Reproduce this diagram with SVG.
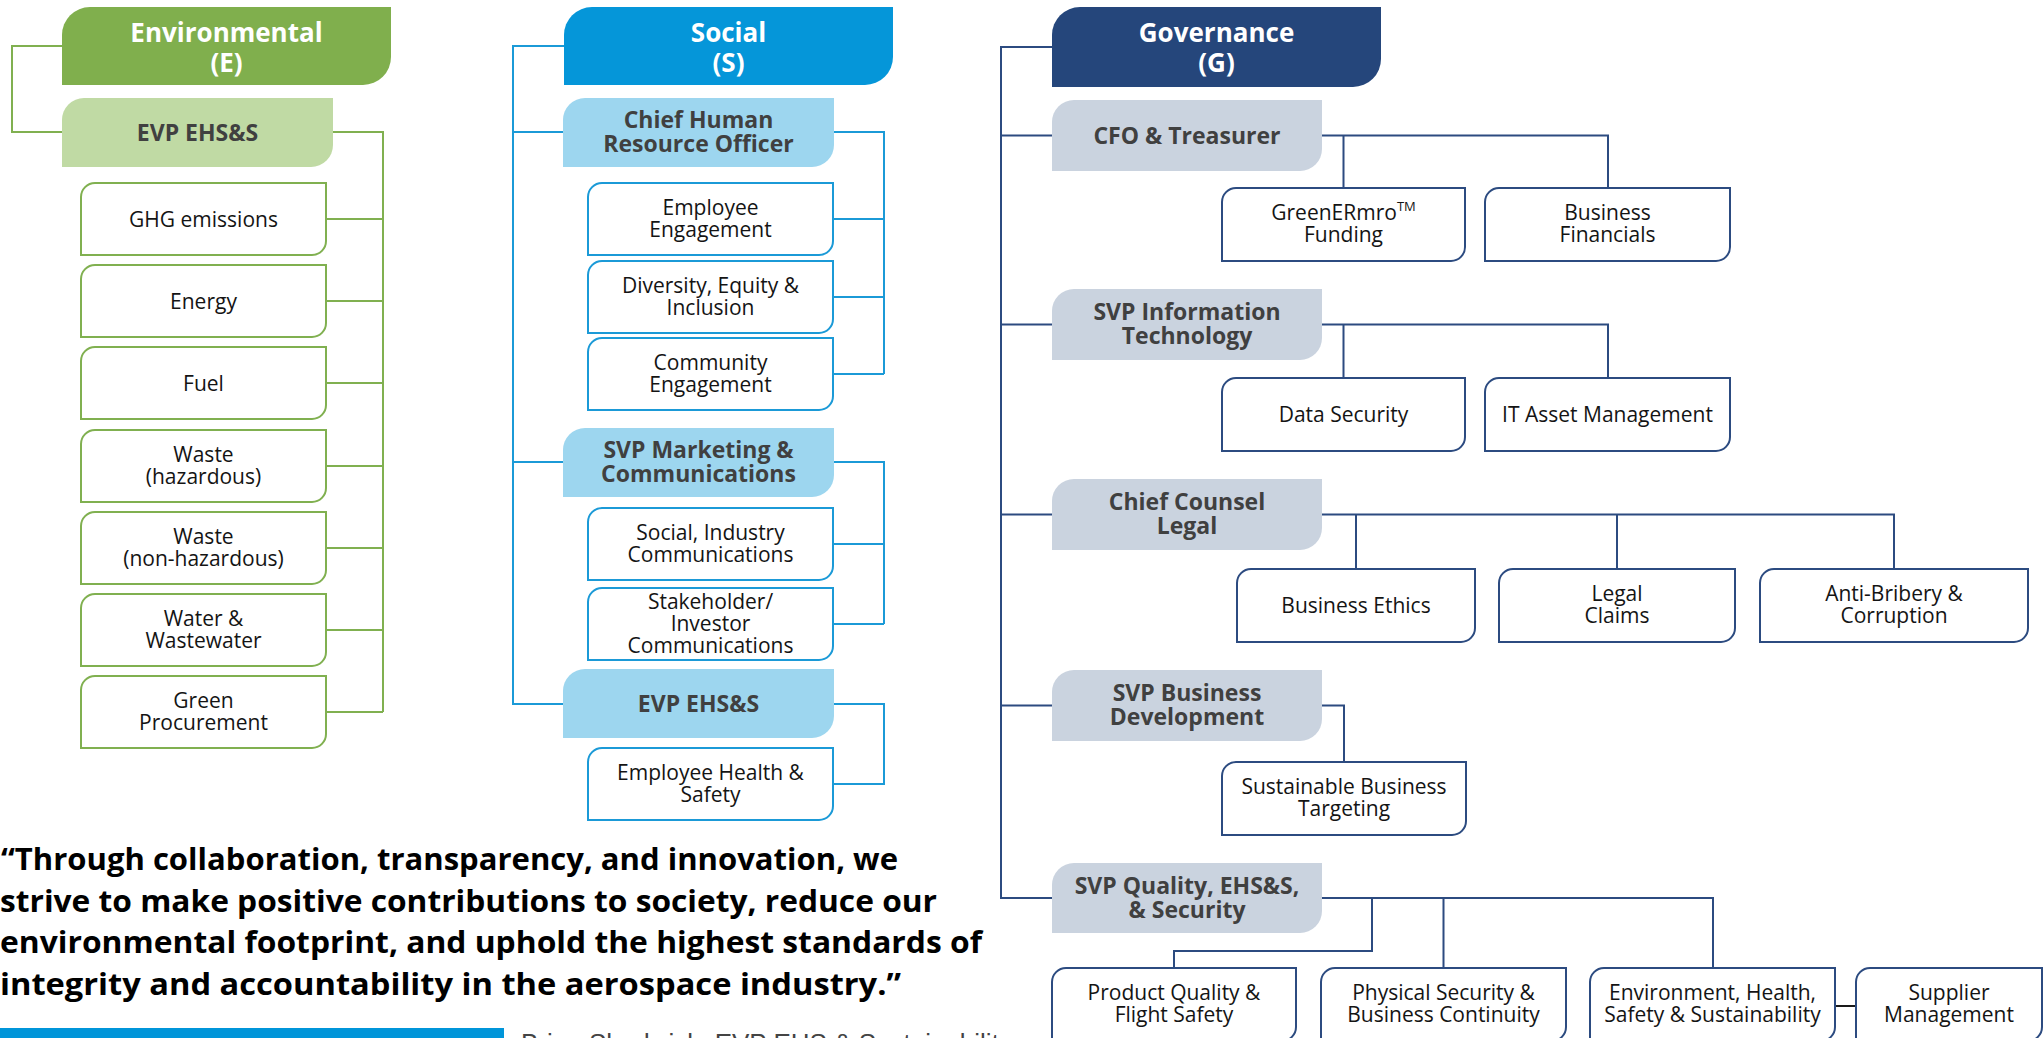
<svg xmlns="http://www.w3.org/2000/svg" width="2044" height="1038" viewBox="0 0 2044 1038">
  <style>
    .ln { fill: none; stroke-width: 2; }
    .e-ln { stroke: #80B050; }
    .s-ln { stroke: #1B9AD7; }
    .g-ln { stroke: #2C4B80; }
    .leaf { fill: #ffffff; stroke-width: 2; }
    .e-leaf { stroke: #80B050; }
    .s-leaf { stroke: #1B9AD7; }
    .g-leaf { stroke: #2C4B80; }
    .hdr-t { font-family: "Open Sans", "Noto Sans", sans-serif; font-weight: 700; font-size: 26px; fill: #ffffff; text-anchor: middle; }
    .sub-t { font-family: "Open Sans", "Noto Sans", sans-serif; font-weight: 700; font-size: 23px; fill: #404040; text-anchor: middle; }
    .leaf-t { font-family: "Open Sans", "Noto Sans", sans-serif; font-weight: 400; font-size: 21px; fill: #141414; text-anchor: middle; }
    .quote { font-family: "Open Sans", "Noto Sans", sans-serif; font-weight: 700; font-size: 30px; fill: #000000; }
    .credit { font-family: "Liberation Sans", Arial, sans-serif; font-size: 26px; fill: #444444; }
  </style>

  <rect x="0" y="0" width="2044" height="1038" fill="#ffffff"/>

  <!-- connectors -->
  <g id="connectors">
    <!-- Environmental -->
    <path class="ln e-ln" d="M62,46 H12 V132 H62"/>
    <path class="ln e-ln" d="M333,132 H383 V712"/>
    <path class="ln e-ln" d="M326,219 H383 M326,301 H383 M326,383 H383 M326,466 H383 M326,548 H383 M326,630 H383 M326,712 H383"/>
    <!-- Social -->
    <path class="ln s-ln" d="M564,46 H513 V704 H563 M513,132 H563 M513,462 H563"/>
    <path class="ln s-ln" d="M834,132 H884 V374 M833,219 H884 M833,297 H884 M833,374 H884"/>
    <path class="ln s-ln" d="M834,462 H884 V624 M833,544 H884 M833,624 H884"/>
    <path class="ln s-ln" d="M834,704 H884 V784 H833"/>
    <!-- Governance -->
    <path class="ln g-ln" d="M1052,47 H1001 V898 H1052 M1001,135.5 H1052 M1001,324.5 H1052 M1001,514.5 H1052 M1001,705.5 H1052"/>
    <path class="ln g-ln" d="M1322,135.5 H1608 V188 M1343.5,135.5 V188"/>
    <path class="ln g-ln" d="M1322,324.5 H1608 V378 M1343.5,324.5 V378"/>
    <path class="ln g-ln" d="M1322,514.5 H1894 V569 M1356,514.5 V569 M1617,514.5 V569"/>
    <path class="ln g-ln" d="M1322,705.5 H1344 V762"/>
    <path class="ln g-ln" d="M1322,898 H1713 V968 M1372,898 V951 H1174 V968 M1443.5,898 V968"/>
    <path class="ln" stroke="#1a1a1a" d="M1835,1006 H1856"/>
  </g>

  <!-- Environmental column -->
  <g id="env-header">
    <path d="M62,35 A28,28 0 0 1 90,7 H391 V57 A28,28 0 0 1 363,85 H62 Z" fill="#80AF4D"/>
    <text class="hdr-t"><tspan x="226.5" y="42">Environmental</tspan><tspan x="226.5" y="72">(E)</tspan></text>
  </g>
  <g id="env-evp">
    <path d="M62,120 A22,22 0 0 1 84,98 H333 V145 A22,22 0 0 1 311,167 H62 Z" fill="#C0DAA4"/>
    <text class="sub-t" x="197.5" y="140.5">EVP EHS&amp;S</text>
  </g>
  <g id="env-ghg">
    <path class="leaf e-leaf" d="M81,197 A14,14 0 0 1 95,183 H326 V241 A14,14 0 0 1 312,255 H81 Z"/>
    <text class="leaf-t" x="203.5" y="226.5">GHG emissions</text>
  </g>
  <g id="env-energy">
    <path class="leaf e-leaf" d="M81,279 A14,14 0 0 1 95,265 H326 V323 A14,14 0 0 1 312,337 H81 Z"/>
    <text class="leaf-t" x="203.5" y="308.5">Energy</text>
  </g>
  <g id="env-fuel">
    <path class="leaf e-leaf" d="M81,361 A14,14 0 0 1 95,347 H326 V405 A14,14 0 0 1 312,419 H81 Z"/>
    <text class="leaf-t" x="203.5" y="390.5">Fuel</text>
  </g>
  <g id="env-waste-haz">
    <path class="leaf e-leaf" d="M81,444 A14,14 0 0 1 95,430 H326 V488 A14,14 0 0 1 312,502 H81 Z"/>
    <text class="leaf-t"><tspan x="203.5" y="461.5">Waste</tspan><tspan x="203.5" y="483.5">(hazardous)</tspan></text>
  </g>
  <g id="env-waste-nonhaz">
    <path class="leaf e-leaf" d="M81,526 A14,14 0 0 1 95,512 H326 V570 A14,14 0 0 1 312,584 H81 Z"/>
    <text class="leaf-t"><tspan x="203.5" y="543.5">Waste</tspan><tspan x="203.5" y="565.5">(non-hazardous)</tspan></text>
  </g>
  <g id="env-water">
    <path class="leaf e-leaf" d="M81,608 A14,14 0 0 1 95,594 H326 V652 A14,14 0 0 1 312,666 H81 Z"/>
    <text class="leaf-t"><tspan x="203.5" y="625.5">Water &amp;</tspan><tspan x="203.5" y="647.5">Wastewater</tspan></text>
  </g>
  <g id="env-procurement">
    <path class="leaf e-leaf" d="M81,690 A14,14 0 0 1 95,676 H326 V734 A14,14 0 0 1 312,748 H81 Z"/>
    <text class="leaf-t"><tspan x="203.5" y="707.5">Green</tspan><tspan x="203.5" y="729.5">Procurement</tspan></text>
  </g>

  <!-- Social column -->
  <g id="soc-header">
    <path d="M564,35 A28,28 0 0 1 592,7 H893 V57 A28,28 0 0 1 865,85 H564 Z" fill="#0596D9"/>
    <text class="hdr-t"><tspan x="728.5" y="42">Social</tspan><tspan x="728.5" y="72">(S)</tspan></text>
  </g>
  <g id="soc-chro">
    <path d="M563,120 A22,22 0 0 1 585,98 H834 V145 A22,22 0 0 1 812,167 H563 Z" fill="#9DD6EF"/>
    <text class="sub-t"><tspan x="698.5" y="128">Chief Human</tspan><tspan x="698.5" y="152">Resource Officer</tspan></text>
  </g>
  <g id="soc-emp-eng">
    <path class="leaf s-leaf" d="M588,197 A14,14 0 0 1 602,183 H833 V241 A14,14 0 0 1 819,255 H588 Z"/>
    <text class="leaf-t"><tspan x="710.5" y="214.5">Employee</tspan><tspan x="710.5" y="236.5">Engagement</tspan></text>
  </g>
  <g id="soc-dei">
    <path class="leaf s-leaf" d="M588,275 A14,14 0 0 1 602,261 H833 V319 A14,14 0 0 1 819,333 H588 Z"/>
    <text class="leaf-t"><tspan x="710.5" y="292.5">Diversity, Equity &amp;</tspan><tspan x="710.5" y="314.5">Inclusion</tspan></text>
  </g>
  <g id="soc-community">
    <path class="leaf s-leaf" d="M588,352 A14,14 0 0 1 602,338 H833 V396 A14,14 0 0 1 819,410 H588 Z"/>
    <text class="leaf-t"><tspan x="710.5" y="369.5">Community</tspan><tspan x="710.5" y="391.5">Engagement</tspan></text>
  </g>
  <g id="soc-marketing">
    <path d="M563,450 A22,22 0 0 1 585,428 H834 V475 A22,22 0 0 1 812,497 H563 Z" fill="#9DD6EF"/>
    <text class="sub-t"><tspan x="698.5" y="458">SVP Marketing &amp;</tspan><tspan x="698.5" y="482">Communications</tspan></text>
  </g>
  <g id="soc-industry">
    <path class="leaf s-leaf" d="M588,522 A14,14 0 0 1 602,508 H833 V566 A14,14 0 0 1 819,580 H588 Z"/>
    <text class="leaf-t"><tspan x="710.5" y="539.5">Social, Industry</tspan><tspan x="710.5" y="561.5">Communications</tspan></text>
  </g>
  <g id="soc-investor">
    <path class="leaf s-leaf" d="M588,602 A14,14 0 0 1 602,588 H833 V646 A14,14 0 0 1 819,660 H588 Z"/>
    <text class="leaf-t"><tspan x="710.5" y="608.5">Stakeholder/</tspan><tspan x="710.5" y="630.5">Investor</tspan><tspan x="710.5" y="652.5">Communications</tspan></text>
  </g>
  <g id="soc-evp">
    <path d="M563,691 A22,22 0 0 1 585,669 H834 V716 A22,22 0 0 1 812,738 H563 Z" fill="#9DD6EF"/>
    <text class="sub-t" x="698.5" y="711.5">EVP EHS&amp;S</text>
  </g>
  <g id="soc-health">
    <path class="leaf s-leaf" d="M588,762 A14,14 0 0 1 602,748 H833 V806 A14,14 0 0 1 819,820 H588 Z"/>
    <text class="leaf-t"><tspan x="710.5" y="779.5">Employee Health &amp;</tspan><tspan x="710.5" y="801.5">Safety</tspan></text>
  </g>

  <!-- Governance column -->
  <g id="gov-header">
    <path d="M1052,35 A28,28 0 0 1 1080,7 H1381 V59 A28,28 0 0 1 1353,87 H1052 Z" fill="#25467B"/>
    <text class="hdr-t"><tspan x="1216.5" y="42">Governance</tspan><tspan x="1216.5" y="72">(G)</tspan></text>
  </g>
  <g id="gov-cfo">
    <path d="M1052,122 A22,22 0 0 1 1074,100 H1322 V149 A22,22 0 0 1 1300,171 H1052 Z" fill="#CAD3DF"/>
    <text class="sub-t" x="1187" y="143.5">CFO &amp; Treasurer</text>
  </g>
  <g id="gov-greenermro">
    <path class="leaf g-leaf" d="M1222,202 A14,14 0 0 1 1236,188 H1465 V247 A14,14 0 0 1 1451,261 H1222 Z"/>
    <text class="leaf-t"><tspan x="1343.5" y="220">GreenERmro<tspan font-size="13" dy="-9">TM</tspan></tspan><tspan x="1343.5" y="242">Funding</tspan></text>
  </g>
  <g id="gov-financials">
    <path class="leaf g-leaf" d="M1485,202 A14,14 0 0 1 1499,188 H1730 V247 A14,14 0 0 1 1716,261 H1485 Z"/>
    <text class="leaf-t"><tspan x="1607.5" y="220">Business</tspan><tspan x="1607.5" y="242">Financials</tspan></text>
  </g>
  <g id="gov-it">
    <path d="M1052,311 A22,22 0 0 1 1074,289 H1322 V338 A22,22 0 0 1 1300,360 H1052 Z" fill="#CAD3DF"/>
    <text class="sub-t"><tspan x="1187" y="320">SVP Information</tspan><tspan x="1187" y="344">Technology</tspan></text>
  </g>
  <g id="gov-data-security">
    <path class="leaf g-leaf" d="M1222,392 A14,14 0 0 1 1236,378 H1465 V437 A14,14 0 0 1 1451,451 H1222 Z"/>
    <text class="leaf-t" x="1343.5" y="421.5">Data Security</text>
  </g>
  <g id="gov-it-assets">
    <path class="leaf g-leaf" d="M1485,392 A14,14 0 0 1 1499,378 H1730 V437 A14,14 0 0 1 1716,451 H1485 Z"/>
    <text class="leaf-t" x="1607.5" y="421.5">IT Asset Management</text>
  </g>
  <g id="gov-legal">
    <path d="M1052,501 A22,22 0 0 1 1074,479 H1322 V528 A22,22 0 0 1 1300,550 H1052 Z" fill="#CAD3DF"/>
    <text class="sub-t"><tspan x="1187" y="510">Chief Counsel</tspan><tspan x="1187" y="534">Legal</tspan></text>
  </g>
  <g id="gov-ethics">
    <path class="leaf g-leaf" d="M1237,583 A14,14 0 0 1 1251,569 H1475 V628 A14,14 0 0 1 1461,642 H1237 Z"/>
    <text class="leaf-t" x="1356" y="612.5">Business Ethics</text>
  </g>
  <g id="gov-claims">
    <path class="leaf g-leaf" d="M1499,583 A14,14 0 0 1 1513,569 H1735 V628 A14,14 0 0 1 1721,642 H1499 Z"/>
    <text class="leaf-t"><tspan x="1617" y="601">Legal</tspan><tspan x="1617" y="623">Claims</tspan></text>
  </g>
  <g id="gov-bribery">
    <path class="leaf g-leaf" d="M1760,583 A14,14 0 0 1 1774,569 H2028 V628 A14,14 0 0 1 2014,642 H1760 Z"/>
    <text class="leaf-t"><tspan x="1894" y="601">Anti-Bribery &amp;</tspan><tspan x="1894" y="623">Corruption</tspan></text>
  </g>
  <g id="gov-bizdev">
    <path d="M1052,692 A22,22 0 0 1 1074,670 H1322 V719 A22,22 0 0 1 1300,741 H1052 Z" fill="#CAD3DF"/>
    <text class="sub-t"><tspan x="1187" y="701">SVP Business</tspan><tspan x="1187" y="725">Development</tspan></text>
  </g>
  <g id="gov-targeting">
    <path class="leaf g-leaf" d="M1222,776 A14,14 0 0 1 1236,762 H1466 V821 A14,14 0 0 1 1452,835 H1222 Z"/>
    <text class="leaf-t"><tspan x="1344" y="794">Sustainable Business</tspan><tspan x="1344" y="816">Targeting</tspan></text>
  </g>
  <g id="gov-quality">
    <path d="M1052,885 A22,22 0 0 1 1074,863 H1322 V911 A22,22 0 0 1 1300,933 H1052 Z" fill="#CAD3DF"/>
    <text class="sub-t"><tspan x="1187" y="893.5">SVP Quality, EHS&amp;S,</tspan><tspan x="1187" y="917.5">&amp; Security</tspan></text>
  </g>
  <g id="gov-flight-safety">
    <path class="leaf g-leaf" d="M1052,982 A14,14 0 0 1 1066,968 H1296 V1027 A14,14 0 0 1 1282,1041 H1052 Z"/>
    <text class="leaf-t"><tspan x="1174" y="1000">Product Quality &amp;</tspan><tspan x="1174" y="1022">Flight Safety</tspan></text>
  </g>
  <g id="gov-continuity">
    <path class="leaf g-leaf" d="M1321,982 A14,14 0 0 1 1335,968 H1566 V1027 A14,14 0 0 1 1552,1041 H1321 Z"/>
    <text class="leaf-t"><tspan x="1443.5" y="1000">Physical Security &amp;</tspan><tspan x="1443.5" y="1022">Business Continuity</tspan></text>
  </g>
  <g id="gov-ehss">
    <path class="leaf g-leaf" d="M1590,982 A14,14 0 0 1 1604,968 H1835 V1027 A14,14 0 0 1 1821,1041 H1590 Z"/>
    <text class="leaf-t"><tspan x="1712.5" y="1000">Environment, Health,</tspan><tspan x="1712.5" y="1022">Safety &amp; Sustainability</tspan></text>
  </g>
  <g id="gov-supplier">
    <path class="leaf g-leaf" d="M1856,982 A14,14 0 0 1 1870,968 H2042 V1027 A14,14 0 0 1 2028,1041 H1856 Z"/>
    <text class="leaf-t"><tspan x="1949" y="1000">Supplier</tspan><tspan x="1949" y="1022">Management</tspan></text>
  </g>

  <!-- Quote and attribution -->
  <g id="quote">
    <text class="quote" x="1" y="870" textLength="897" lengthAdjust="spacingAndGlyphs">“Through collaboration, transparency, and innovation, we</text>
    <text class="quote" x="0" y="912" textLength="937" lengthAdjust="spacingAndGlyphs">strive to make positive contributions to society, reduce our</text>
    <text class="quote" x="0" y="953" textLength="982" lengthAdjust="spacingAndGlyphs">environmental footprint, and uphold the highest standards of</text>
    <text class="quote" x="0" y="995" textLength="901" lengthAdjust="spacingAndGlyphs">integrity and accountability in the aerospace industry.”</text>
  </g>
  <g id="attribution">
    <rect x="0" y="1028" width="504" height="10" fill="#0095D9"/>
    <text class="credit" x="521" y="1052">Brian Shadwick, EVP EHS &amp; Sustainability</text>
  </g>
</svg>
